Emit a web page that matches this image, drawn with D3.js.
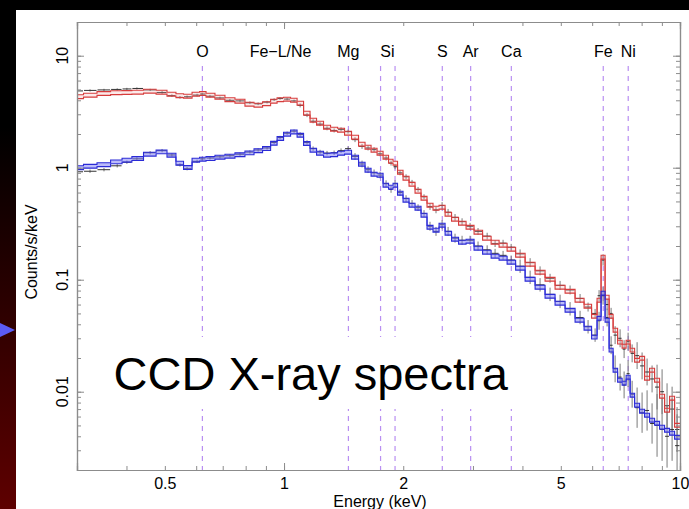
<!DOCTYPE html>
<html><head><meta charset="utf-8">
<script src="https://cdn.jsdelivr.net/npm/d3@7"></script>
<style>html,body{margin:0;padding:0;background:#000;} svg{display:block}</style>
</head><body>
<svg id="c" width="689" height="509"></svg>
<script>
// ---- data ----
const energies = [0.300,0.3236,0.351,0.379,0.401,0.425,0.459,0.492,0.521,0.546,0.569,0.603,0.621,0.650,0.689,0.730,0.774,0.820,0.860,0.906,0.944,0.977,1.018,1.060,1.098,1.143,1.184,1.233,1.284,1.338,1.393,1.451,1.511,1.574,1.630,1.688,1.748,1.810,1.863,1.907,1.963,2.033,2.105,2.180,2.257,2.337,2.420,2.507,2.596,2.703,2.816,2.950,3.090,3.258,3.412,3.574,3.746,3.946,4.183,4.432,4.697,4.979,5.277,5.593,5.859,6.103,6.246,6.393,6.545,6.699,6.857,7.059,7.225,7.395,7.570,7.792,8.021,8.258,8.501,8.751,9.011,9.275,9.551,9.831];

const modelUpper = [4.305,4.440,4.597,4.673,4.693,4.722,4.820,4.722,4.532,4.394,4.349,4.532,4.597,4.440,4.261,4.047,3.925,3.690,3.614,3.728,3.925,4.047,4.089,4.006,3.766,3.066,2.656,2.497,2.299,2.207,2.162,2.032,1.872,1.621,1.524,1.433,1.347,1.241,1.143,1.097,0.912,0.806,0.712,0.617,0.534,0.4625,0.435,0.444,0.3845,0.347,0.3195,0.294,0.2655,0.2347,0.2162,0.2032,0.1872,0.1655,0.1375,0.1167,0.1010,0.0857,0.0789,0.0656,0.0580,0.0472,0.0656,0.1589,0.0698,0.0472,0.0354,0.0277,0.0255,0.0277,0.0235,0.0191,0.0199,0.0132,0.01556,0.01267,0.00912,0.00684,0.00875,0.00502];

const dataUpper = [4.85,4.90,4.95,5.00,5.05,5.10,4.95,4.70,4.40,4.25,4.30,4.45,4.55,4.35,4.20,4.00,3.95,3.80,3.72,3.85,4.05,4.15,4.10,3.95,3.60,2.95,2.60,2.45,2.25,2.15,2.20,2.10,1.78,1.55,1.50,1.45,1.33,1.22,1.10,1.02,0.90,0.83,0.74,0.64,0.55,0.45,0.42,0.46,0.40,0.36,0.33,0.30,0.27,0.245,0.21,0.212,0.195,0.17,0.142,0.12,0.103,0.089,0.081,0.068,0.057,0.050,0.072,0.150,0.060,0.050,0.032,0.030,0.024,0.028,0.022,0.021,0.017,0.015,0.013,0.011,0.010,0.0075,0.0070,0.0046];

const errUpper = [0.010,0.010,0.010,0.010,0.010,0.010,0.010,
  0.012,0.012,0.012,0.012,0.012,0.012,0.012,0.012,0.012,0.012,0.012,0.012,0.012,0.012,0.012,0.012,0.012,
  0.018,0.018,0.018,0.018,0.018,0.018,0.018,0.018,
  0.022,0.022,0.022,0.022,0.022,0.022,0.022,0.022,0.022,0.022,0.022,0.022,0.022,
  0.03,0.03,0.03,0.03,0.03,0.03,0.03,0.03,0.03,0.03,0.03,0.03,
  0.04,0.04,0.04,0.04,0.04,0.04,0.04,0.04,0.04,
  0.05,0.05,0.05,0.05,
  0.08,0.08,0.08,0.08,0.08,
  0.12,0.12,0.12,0.12,
  0.2,0.2,0.2,0.2,0.2];

const modelLower = [1.000,1.031,1.064,1.127,1.167,1.208,1.320,1.384,1.293,1.097,1.004,1.167,1.191,1.208,1.241,1.267,1.306,1.356,1.418,1.483,1.654,1.823,1.991,2.087,1.950,1.645,1.433,1.347,1.293,1.306,1.347,1.375,1.241,1.075,0.950,0.875,0.857,0.698,0.670,0.698,0.592,0.513,0.4625,0.435,0.3766,0.294,0.2767,0.3066,0.2602,0.2299,0.2162,0.2207,0.1911,0.1760,0.1621,0.1556,0.1433,0.1267,0.1010,0.0857,0.0712,0.0617,0.0534,0.0435,0.0369,0.0307,0.0453,0.0758,0.0435,0.0235,0.01556,0.01267,0.01191,0.01347,0.00931,0.00758,0.00670,0.00617,0.00557,0.00523,0.00482,0.00453,0.00426,0.00392];

const dataLower = [0.92,0.93,0.96,1.04,1.12,1.20,1.36,1.42,1.30,1.06,0.98,1.14,1.20,1.22,1.25,1.28,1.32,1.38,1.44,1.50,1.68,1.86,2.03,2.12,1.98,1.68,1.48,1.38,1.35,1.36,1.42,1.48,1.26,1.08,0.96,0.90,0.86,0.72,0.64,0.72,0.60,0.53,0.48,0.44,0.39,0.30,0.27,0.31,0.27,0.235,0.225,0.225,0.20,0.185,0.172,0.165,0.15,0.132,0.105,0.090,0.074,0.064,0.055,0.046,0.038,0.032,0.043,0.072,0.046,0.026,0.016,0.0135,0.0115,0.0145,0.0095,0.0072,0.0065,0.0068,0.0052,0.0050,0.0046,0.0040,0.0046,0.0033];

const errLower = [0.015,0.015,0.015,0.015,0.015,0.015,0.015,
  0.015,0.015,0.015,0.015,0.015,0.015,0.015,0.015,0.015,0.015,0.015,0.015,0.015,0.015,0.015,0.015,0.015,
  0.02,0.02,0.02,0.02,0.02,0.02,0.02,0.02,
  0.03,0.03,0.03,0.03,0.03,0.03,0.03,0.03,0.03,0.03,0.03,0.03,0.03,
  0.04,0.04,0.04,0.04,0.04,0.04,0.04,0.04,0.04,0.04,0.04,0.04,
  0.06,0.06,0.06,0.06,0.06,0.06,0.06,0.06,0.06,
  0.08,0.08,0.08,0.08,
  0.12,0.12,0.12,0.12,0.12,
  0.18,0.18,0.18,0.18,
  0.28,0.28,0.28,0.28,0.28];

const lineEnergies = [0.622, 1.454, 1.753, 1.907, 2.51, 2.96, 3.75, 6.40, 7.40];
const labelNames = ["O", "Fe\u2212L/Ne", "Mg", "Si", "S", "Ar", "Ca", "Fe", "Ni"];
const labelEnergies = [0.622, 0.98, 1.454, 1.825, 2.51, 2.96, 3.75, 6.40, 7.40];
const xTickLabels = [0.5, 1, 2, 5, 10];
const yTickLabels = [10, 1, 0.1, 0.01];
const xTitle = "Energy (keV)";
const yTitle = "Counts/s/keV";
const bigTitle = "CCD X-ray spectra";

// ---- drawing ----
const FONT = "'Liberation Sans', Arial, Helvetica, sans-serif";
const svg = d3.select("#c");
const L = 77, R = 680, T = 22, B = 470;
const x = d3.scaleLog().domain([0.3, 10]).range([L, R]);
const y = d3.scaleLog().domain([0.002, 20]).range([B, T]);

// background
const defs = svg.append("defs");
const grad = defs.append("linearGradient").attr("id", "side").attr("x1", 0).attr("y1", 0).attr("x2", 0).attr("y2", 1);
grad.append("stop").attr("offset", "0").attr("stop-color", "#000");
grad.append("stop").attr("offset", "0.25").attr("stop-color", "#000");
grad.append("stop").attr("offset", "1").attr("stop-color", "#5e0000");
svg.append("rect").attr("width", 689).attr("height", 509).attr("fill", "#000");
svg.append("rect").attr("x", 0).attr("y", 0).attr("width", 16).attr("height", 509).attr("fill", "url(#side)");
svg.append("rect").attr("x", 16).attr("y", 10).attr("width", 673).attr("height", 499).attr("fill", "#fff");
svg.append("polygon").attr("points", "0,323 15,330 0,337").attr("fill", "#5b5bf5");

defs.append("clipPath").attr("id", "plotclip").append("rect")
  .attr("x", L).attr("y", T).attr("width", R - L).attr("height", B - T);

// element lines
svg.append("g").selectAll("line").data(lineEnergies).join("line")
  .attr("x1", d => x(d)).attr("x2", d => x(d))
  .attr("y1", 66).attr("y2", B)
  .attr("stroke", "#b98ff2").attr("stroke-width", 1.2).attr("stroke-dasharray", "5,5");
svg.append("g").selectAll("text").data(labelNames).join("text")
  .attr("x", (d, i) => x(labelEnergies[i])).attr("y", 56.5)
  .attr("text-anchor", "middle").attr("font-family", FONT).attr("font-size", 16)
  .attr("fill", "#000").text(d => d);

// big text with white backing box
svg.append("rect").attr("x", 100).attr("y", 337).attr("width", 430).attr("height", 72).attr("fill", "#fff");
svg.append("text").attr("x", 113.5).attr("y", 390).attr("font-family", FONT)
  .attr("font-size", 47).attr("fill", "#000").text(bigTitle);

// bins
const n = energies.length;
const edges = [0.3];
for (let i = 1; i < n; i++) edges.push(Math.sqrt(energies[i - 1] * energies[i]));
edges.push(10);

const plot = svg.append("g").attr("clip-path", "url(#plotclip)");

function drawData(vals, errs) {
  const g = plot.append("g");
  g.selectAll("line.v").data(vals).join("line").attr("class", "v")
    .attr("x1", (d, i) => x(energies[i])).attr("x2", (d, i) => x(energies[i]))
    .attr("y1", (d, i) => y(d * Math.pow(10, errs[i])))
    .attr("y2", (d, i) => y(d / Math.pow(10, errs[i])))
    .attr("stroke", "#7a7a7a").attr("stroke-width", 1);
  g.selectAll("line.h").data(vals).join("line").attr("class", "h")
    .attr("x1", (d, i) => x(edges[i]) + 0.5).attr("x2", (d, i) => x(edges[i + 1]) - 0.5)
    .attr("y1", d => y(d)).attr("y2", d => y(d))
    .attr("stroke", "#333").attr("stroke-width", 1);
}
function drawModel(vals, stroke, fill) {
  const k = Math.pow(10, 0.017);
  const pts = vals.map((v, i) => ({e: edges[i], v}));
  pts.push({e: edges[n], v: vals[n - 1]});
  const g = plot.append("g");
  g.append("path").datum(pts)
    .attr("d", d3.area().curve(d3.curveStepAfter).x(p => x(p.e)).y0(p => y(p.v / k)).y1(p => y(p.v * k)))
    .attr("fill", fill).attr("stroke", "none");
  [k, 1 / k].forEach(f => {
    g.append("path").datum(pts)
      .attr("d", d3.line().curve(d3.curveStepAfter).x(p => x(p.e)).y(p => y(p.v * f)))
      .attr("fill", "none").attr("stroke", stroke).attr("stroke-width", 1.1);
  });
}
drawData(dataUpper, errUpper);
drawData(dataLower, errLower);
drawModel(modelUpper, "#d63c3c", "rgba(245,170,170,0.25)");
drawModel(modelLower, "#2b2bd6", "rgba(120,120,245,0.5)");

// axes
const gray = "#8c8c8c";
const xAll = x.ticks();
const yAll = y.ticks();
const xMajor = [1, 10];
const yMajor = [0.01, 0.1, 1, 10];
function styleAxis(g) {
  g.selectAll("path.domain").attr("stroke", gray).attr("stroke-width", 1.2);
  g.selectAll(".tick line").attr("stroke", gray).attr("stroke-width", 1);
  g.selectAll(".tick text").attr("fill", "#000").attr("font-family", FONT).attr("font-size", 16);
}
svg.append("g").attr("transform", `translate(0,${B})`).call(d3.axisBottom(x).tickValues(xAll).tickSize(-4).tickFormat("")).call(styleAxis);
svg.append("g").attr("transform", `translate(0,${B})`).call(d3.axisBottom(x).tickValues(xMajor).tickSize(-7).tickFormat("")).call(styleAxis);
svg.append("g").attr("transform", `translate(0,${B})`).call(d3.axisBottom(x).tickValues(xTickLabels).tickSize(0).tickPadding(8).tickFormat(d3.format("~g"))).call(styleAxis)
  .call(g => g.select("path.domain").remove());
svg.append("g").attr("transform", `translate(0,${T})`).call(d3.axisTop(x).tickValues(xAll).tickSize(-4).tickFormat("")).call(styleAxis);
svg.append("g").attr("transform", `translate(0,${T})`).call(d3.axisTop(x).tickValues(xMajor).tickSize(-7).tickFormat("")).call(styleAxis);
svg.append("g").attr("transform", `translate(${L},0)`).call(d3.axisLeft(y).tickValues(yAll).tickSize(-4).tickFormat("")).call(styleAxis);
svg.append("g").attr("transform", `translate(${L},0)`).call(d3.axisLeft(y).tickValues(yMajor).tickSize(-7).tickFormat("")).call(styleAxis);
svg.append("g").attr("transform", `translate(${R},0)`).call(d3.axisRight(y).tickValues(yAll).tickSize(-4).tickFormat("")).call(styleAxis);
svg.append("g").attr("transform", `translate(${R},0)`).call(d3.axisRight(y).tickValues(yMajor).tickSize(-7).tickFormat("")).call(styleAxis);

// rotated y tick labels
svg.append("g").selectAll("text").data(yTickLabels).join("text")
  .attr("transform", d => `translate(68,${y(d)}) rotate(-90)`)
  .attr("text-anchor", "middle").attr("font-family", FONT).attr("font-size", 16)
  .attr("fill", "#000").text(d => d3.format("~g")(d));

// titles
svg.append("text").attr("transform", "translate(37,252) rotate(-90)")
  .attr("text-anchor", "middle").attr("font-family", FONT).attr("font-size", 16)
  .attr("fill", "#000").text(yTitle);
svg.append("text").attr("x", 380).attr("y", 507)
  .attr("text-anchor", "middle").attr("font-family", FONT).attr("font-size", 16)
  .attr("fill", "#000").text(xTitle);
</script>
</body></html>
